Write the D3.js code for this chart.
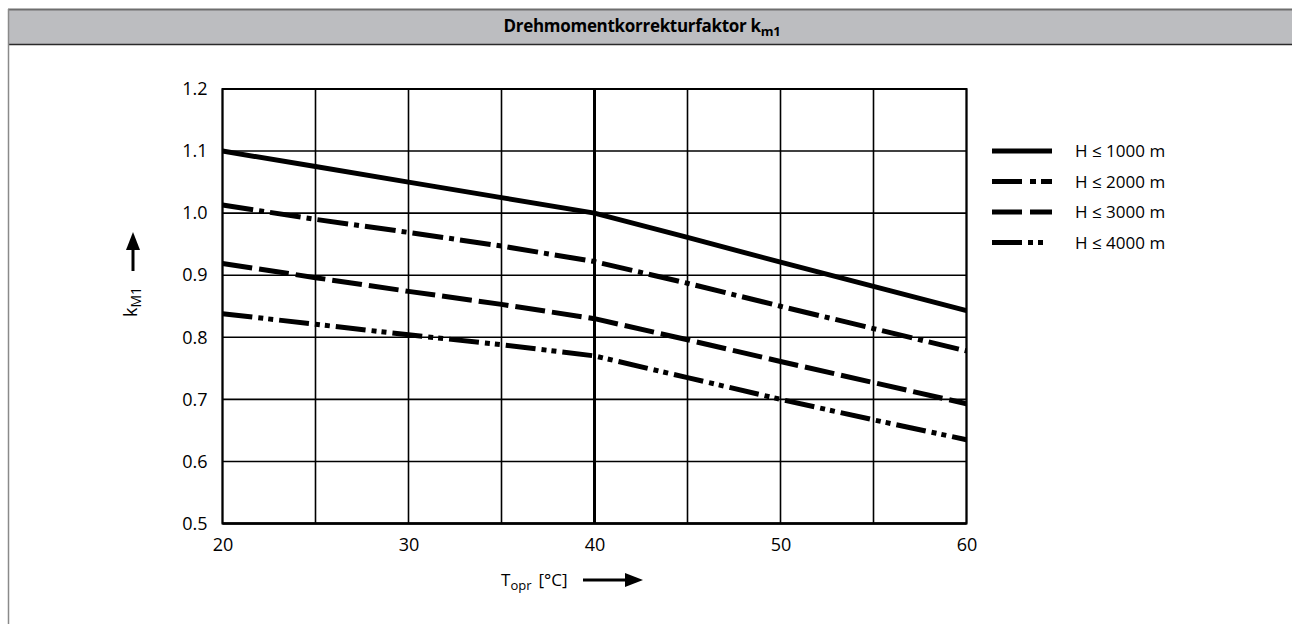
<!DOCTYPE html>
<html>
<head>
<meta charset="utf-8">
<script src="https://cdn.jsdelivr.net/npm/d3@7"></script>
<style>
  body { margin: 0; background: #fff; }
  svg { display: block; }
  .tick text { font-family: "Open Sans", sans-serif; }
</style>
</head>
<body>
<div class="chart"></div>
<script>
// Data
//= ================================
var temps = [20, 25, 30, 35, 40, 45, 50, 55, 60];
var k1000 = [1.100, 1.075, 1.050, 1.025, 1.000, 0.961, 0.921, 0.882, 0.843];
var k2000 = [1.013, 0.990, 0.969, 0.947, 0.922, 0.887, 0.850, 0.814, 0.778];
var k3000 = [0.919, 0.896, 0.874, 0.853, 0.830, 0.796, 0.761, 0.727, 0.693];
var k4000 = [0.838, 0.821, 0.804, 0.788, 0.770, 0.735, 0.700, 0.667, 0.635];
var seriesNames = ["H \u2264 1000 m", "H \u2264 2000 m", "H \u2264 3000 m", "H \u2264 4000 m"];
var xTicks = [20, 30, 40, 50, 60];
var yTicks = [0.5, 0.6, 0.7, 0.8, 0.9, 1.0, 1.1, 1.2];

// Step 1: Set up chart
//= ================================
var svgWidth = 1292;
var svgHeight = 624;

var margin = { top: 89, right: 325, bottom: 100, left: 222.5 };
var width = 966.5 - margin.left;
var height = 523.5 - margin.top;

var svg = d3.select(".chart")
  .append("svg")
  .attr("width", svgWidth)
  .attr("height", svgHeight);

// Step 2: header bar + frame
//= ================================
svg.append("rect")
  .attr("x", 9).attr("y", 9.5)
  .attr("width", svgWidth).attr("height", 35)
  .attr("fill", "#bcbdc0");
svg.append("line")
  .attr("x1", 8).attr("x2", svgWidth).attr("y1", 9.5).attr("y2", 9.5)
  .attr("stroke", "#6e6e6e").attr("stroke-width", 2);
svg.append("line")
  .attr("x1", 8).attr("x2", svgWidth).attr("y1", 44.5).attr("y2", 44.5)
  .attr("stroke", "#2a2a2a").attr("stroke-width", 1.5);
svg.append("line")
  .attr("x1", 8.5).attr("x2", 8.5).attr("y1", 9).attr("y2", svgHeight)
  .attr("stroke", "#8a8a8a").attr("stroke-width", 1.5);

var title = svg.append("text")
  .attr("x", 642).attr("y", 32)
  .attr("text-anchor", "middle")
  .attr("font-family", "'Open Sans', sans-serif")
  .attr("font-weight", "bold")
  .attr("font-size", 17)
  .attr("letter-spacing", -0.3)
  .attr("fill", "#000");
title.append("tspan").text("Drehmomentkorrekturfaktor k");
title.append("tspan").attr("dy", 4).attr("font-size", 13).text("m1");

var chartGroup = svg.append("g")
  .attr("transform", `translate(${margin.left}, ${margin.top})`);

// Step 3: scales
//= ================================
var xScale = d3.scaleLinear().domain([20, 60]).range([0, width]);
var yScale = d3.scaleLinear().domain([0.5, 1.2]).range([height, 0]);

// Step 4: grid
//= ================================
chartGroup.append("g")
  .selectAll("line")
  .data(d3.range(20, 61, 5))
  .enter()
  .append("line")
  .attr("x1", d => xScale(d)).attr("x2", d => xScale(d))
  .attr("y1", 0).attr("y2", height)
  .attr("stroke", "#000")
  .attr("stroke-width", d => d === 40 ? 3 : 1.6);

chartGroup.append("g")
  .selectAll("line")
  .data(yTicks)
  .enter()
  .append("line")
  .attr("x1", 0).attr("x2", width)
  .attr("y1", d => yScale(d)).attr("y2", d => yScale(d))
  .attr("stroke", "#000")
  .attr("stroke-width", 1.6);

chartGroup.append("rect")
  .attr("width", width).attr("height", height)
  .attr("fill", "none").attr("stroke", "#000").attr("stroke-width", 2);
chartGroup.append("line")
  .attr("x1", 0).attr("x2", width).attr("y1", height).attr("y2", height)
  .attr("stroke", "#000").attr("stroke-width", 2.6);

// Step 5: axes (labels only)
//= ================================
var bottomAxis = d3.axisBottom(xScale).tickValues(xTicks).tickSize(0).tickPadding(15);
var leftAxis = d3.axisLeft(yScale).tickValues(yTicks).tickSize(0).tickPadding(15)
  .tickFormat(d3.format(".1f"));

var xAxisG = chartGroup.append("g")
  .attr("transform", `translate(0, ${height})`)
  .call(bottomAxis);
var yAxisG = chartGroup.append("g").call(leftAxis);
[xAxisG, yAxisG].forEach(function (g) {
  g.select(".domain").remove();
  g.selectAll("text").attr("font-size", 18).attr("fill", "#000");
});

// Step 6: curves
//= ================================
var series = [k1000, k2000, k3000, k4000];
var dashes = [null, "31,6,5,6", "30,7", "30,6,5,5,5,6"];

var line = d3.line()
  .x((d, i) => xScale(temps[i]))
  .y(d => yScale(d));

chartGroup.selectAll(".curve")
  .data(series)
  .enter()
  .append("path")
  .attr("class", "curve")
  .attr("d", d => line(d))
  .attr("fill", "none")
  .attr("stroke", "#000")
  .attr("stroke-width", 5)
  .attr("stroke-dasharray", (d, i) => dashes[i]);

// Step 7: legend
//= ================================
var legend = svg.append("g");
var rows = legend.selectAll("g")
  .data(seriesNames)
  .enter()
  .append("g")
  .attr("transform", (d, i) => `translate(992, ${151 + i * 30.5})`);
rows.append("line")
  .attr("x1", 0).attr("x2", 60).attr("y1", 0).attr("y2", 0)
  .attr("stroke", "#000").attr("stroke-width", 5)
  .attr("stroke-dasharray", (d, i) => i === 0 ? null : (i === 1 ? "30,8,6,5" : i === 2 ? "30,8" : "30,6,5,5,5,9"));
rows.append("text")
  .attr("x", 83).attr("y", 6)
  .attr("font-family", "'Open Sans', sans-serif")
  .attr("font-size", 17)
  .attr("fill", "#000")
  .text(d => d);

// Step 8: axis titles with arrows
//= ================================
svg.append("line")
  .attr("x1", 133).attr("x2", 133).attr("y1", 271).attr("y2", 246)
  .attr("stroke", "#000").attr("stroke-width", 3);
svg.append("path")
  .attr("d", "M133,232L140,250L126,250Z")
  .attr("fill", "#000");

var yTitle = svg.append("text")
  .attr("transform", "translate(137, 302) rotate(-90)")
  .attr("text-anchor", "middle")
  .attr("font-family", "'Open Sans', sans-serif")
  .attr("font-size", 18)
  .attr("fill", "#000");
yTitle.append("tspan").text("k");
yTitle.append("tspan").attr("dy", 4).attr("font-size", 14).text("M1");

var xTitle = svg.append("text")
  .attr("x", 501).attr("y", 586)
  .attr("font-family", "'Open Sans', sans-serif")
  .attr("font-size", 17)
  .attr("fill", "#000");
xTitle.append("tspan").text("T");
xTitle.append("tspan").attr("dy", 4).attr("font-size", 13).text("opr");
xTitle.append("tspan").attr("dy", -4).attr("dx", 7).text("[\u00b0C]");

svg.append("line")
  .attr("x1", 583).attr("x2", 628).attr("y1", 580).attr("y2", 580)
  .attr("stroke", "#000").attr("stroke-width", 3);
svg.append("path")
  .attr("d", "M643,580L625,573L625,587Z")
  .attr("fill", "#000");
</script>
</body>
</html>
